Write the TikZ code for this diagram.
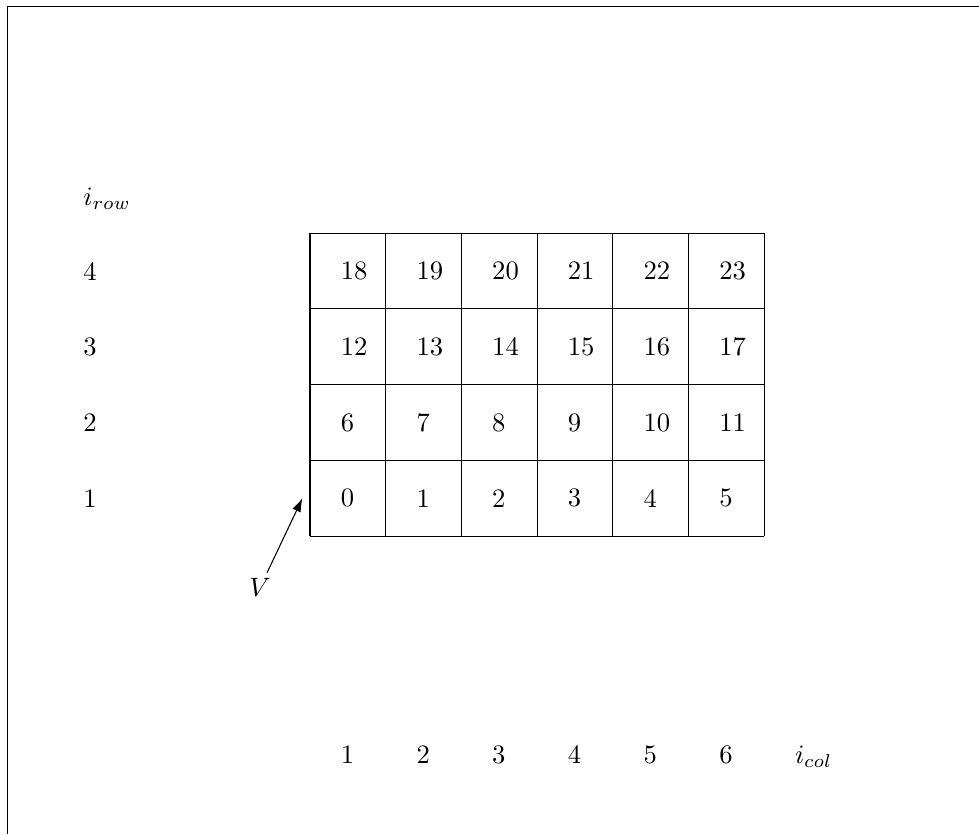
\documentclass[tikz,border=0pt]{standalone}
\usepackage{tikz}
\usetikzlibrary{arrows.meta,positioning}
\tikzset{
  cellnum/.style={anchor=west, inner sep=0pt},
  rowlbl/.style={anchor=west, inner sep=0pt},
  collbl/.style={anchor=base west, inner sep=0pt},
  vecline/.style={-{Latex[length=1.8mm,width=1.2mm]}, line width=0.4pt}
}

\begin{document}
\begin{tikzpicture}
  \useasboundingbox (-4.095,-3.937) rectangle (8.837,7.081);
  \draw (8.837,7) -- (-4,7) -- (-4,-3.937);

  % grid of cells
  \draw (0,0) grid (6,4);

  \node[cellnum] (c0)  at (0.4,0.5) {0};
  \node[cellnum] (c1)  at (1.4,0.5) {1};
  \node[cellnum] (c2)  at (2.4,0.5) {2};
  \node[cellnum] (c3)  at (3.4,0.5) {3};
  \node[cellnum] (c4)  at (4.4,0.5) {4};
  \node[cellnum] (c5)  at (5.4,0.5) {5};
  \node[cellnum] (c6)  at (0.4,1.5) {6};
  \node[cellnum] (c7)  at (1.4,1.5) {7};
  \node[cellnum] (c8)  at (2.4,1.5) {8};
  \node[cellnum] (c9)  at (3.4,1.5) {9};
  \node[cellnum] (c10) at (4.4,1.5) {10};
  \node[cellnum] (c11) at (5.4,1.5) {11};
  \node[cellnum] (c12) at (0.4,2.5) {12};
  \node[cellnum] (c13) at (1.4,2.5) {13};
  \node[cellnum] (c14) at (2.4,2.5) {14};
  \node[cellnum] (c15) at (3.4,2.5) {15};
  \node[cellnum] (c16) at (4.4,2.5) {16};
  \node[cellnum] (c17) at (5.4,2.5) {17};
  \node[cellnum] (c18) at (0.4,3.5) {18};
  \node[cellnum] (c19) at (1.4,3.5) {19};
  \node[cellnum] (c20) at (2.4,3.5) {20};
  \node[cellnum] (c21) at (3.4,3.5) {21};
  \node[cellnum] (c22) at (4.4,3.5) {22};
  \node[cellnum] (c23) at (5.4,3.5) {23};

  % row indices
  \node[anchor=base west, inner sep=0pt] (irow) at (-3,4.37) {\(i_{row}\)};
  \node[rowlbl] (r4) at (-3,3.5) {4};
  \node[rowlbl] (r3) at (-3,2.5) {3};
  \node[rowlbl] (r2) at (-3,1.5) {2};
  \node[rowlbl] (r1) at (-3,0.5) {1};

  % column indices
  \node[collbl] (k1) at (0.4,-3) {1};
  \node[collbl] (k2) at (1.4,-3) {2};
  \node[collbl] (k3) at (2.4,-3) {3};
  \node[collbl] (k4) at (3.4,-3) {4};
  \node[collbl] (k5) at (4.4,-3) {5};
  \node[collbl] (k6) at (5.4,-3) {6};
  \node[collbl] (icol) at (6.4,-3) {\(i_{col}\)};

  \node[inner sep=2pt] (vlbl) at (-0.66,-0.68) {\(V\)};
  \coordinate (vtip) at (-0.1,0.5);
  \draw[vecline] (vlbl) -- (vtip);
\end{tikzpicture}
\end{document}
